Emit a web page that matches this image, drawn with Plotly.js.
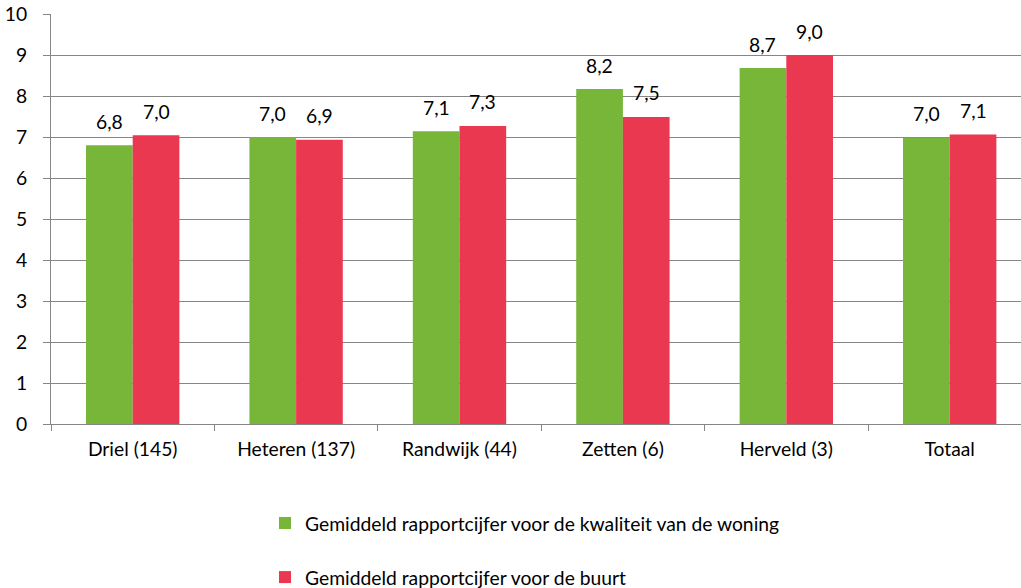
<!DOCTYPE html>
<html>
<head>
<meta charset="utf-8">
<script src="https://cdn.plot.ly/plotly-3.0.1.min.js"></script>
<style>html,body{margin:0;padding:0;background:#fff;}#chart{width:1021px;height:588px;}</style>
</head>
<body>
<div id="chart"></div>
<script>
const categories = ["Driel (145)", "Heteren (137)", "Randwijk (44)", "Zetten (6)", "Herveld (3)", "Totaal"];
const woning = [6.80, 7.00, 7.14, 8.17, 8.68, 6.98];
const buurt = [7.04, 6.93, 7.27, 7.49, 9.00, 7.06];
const seriesNames = ["Gemiddeld rapportcijfer voor de kwaliteit van de woning", "Gemiddeld rapportcijfer voor de buurt"];
const yTicks = [0,1,2,3,4,5,6,7,8,9,10];

const FONT = "Lato, 'Open Sans', sans-serif";
const FS = 19.3;
const green = "#77B639";
const red = "#E9384F";
const fmt = v => v.toFixed(1).replace(".", ",");

const traces = [
  {type: "bar", name: seriesNames[0], x: categories, y: woning, marker: {color: green}, legendgroup: "a", hoverinfo: "none"},
  {type: "bar", name: seriesNames[1], x: categories, y: buurt, marker: {color: red}, legendgroup: "b", hoverinfo: "none"}
];

const annotations = [];
categories.forEach((c, i) => {
  annotations.push({x: c, y: woning[i], xref: "x", yref: "y", text: fmt(woning[i]), showarrow: false, xshift: -23.4, yshift: 24, font: {family: FONT, size: FS, color: "#000"}});
  annotations.push({x: c, y: buurt[i], xref: "x", yref: "y", text: fmt(buurt[i]), showarrow: false, xshift: 23.4, yshift: 24, font: {family: FONT, size: FS, color: "#000"}});
});

const plotW = 1021 - 51;
const catW = 163.4;
const layout = {
  width: 1021, height: 588,
  margin: {l: 51, r: 0, t: 14, b: 164, pad: 0, autoexpand: false},
  paper_bgcolor: "#fff", plot_bgcolor: "#fff",
  font: {family: FONT, size: FS, color: "#000"},
  barmode: "group", bargap: 0.4286, bargroupgap: 0,
  xaxis: {
    type: "category", range: [-0.5, -0.5 + plotW / catW],
    showgrid: false, showline: true, linecolor: "#868686", linewidth: 1,
    ticks: "outside", tickson: "boundaries", ticklen: 6, tickcolor: "#868686",
    ticklabelstandoff: 8, tickfont: {family: FONT, size: FS, color: "#000"}, zeroline: false
  },
  yaxis: {
    range: [0, 10], tickvals: yTicks, ticktext: yTicks.map(String),
    showgrid: true, gridcolor: "#868686", gridwidth: 1,
    showline: true, linecolor: "#868686", linewidth: 1,
    ticks: "outside", ticklen: 7, tickcolor: "#868686", ticklabelstandoff: 12,
    tickfont: {family: FONT, size: FS, color: "#000"}, zeroline: false
  },
  showlegend: true,
  legend: {
    orientation: "v", x: (265 - 51) / plotW, xanchor: "left", y: -0.195, yanchor: "top",
    traceorder: "grouped", tracegroupgap: 26, font: {family: FONT, size: FS, color: "#000"},
    bgcolor: "rgba(0,0,0,0)"
  },
  annotations: annotations
};

Plotly.newPlot("chart", traces, layout, {displayModeBar: false, staticPlot: true});
</script>
</body>
</html>
